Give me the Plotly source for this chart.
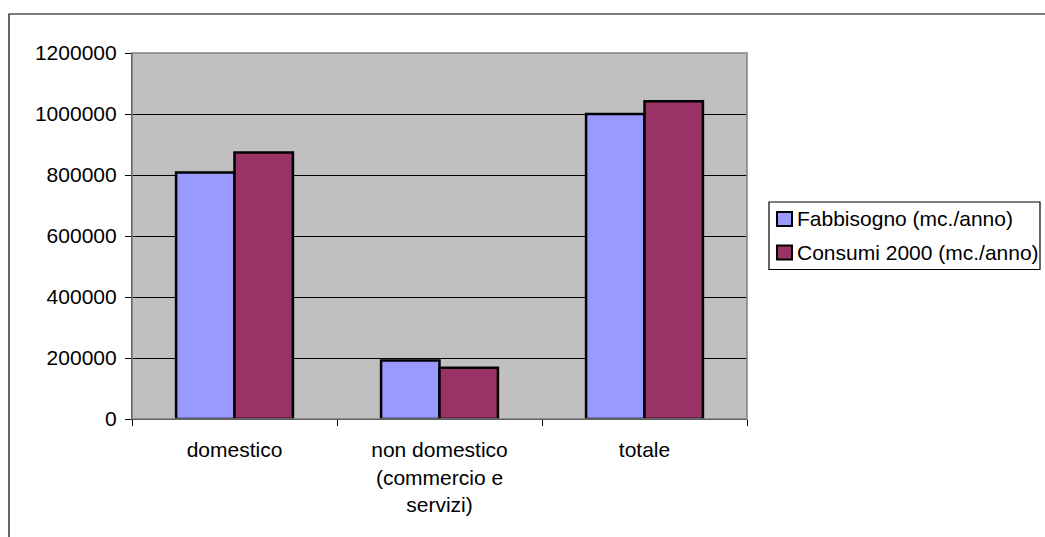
import plotly.graph_objects as go

categories = ["domestico", "non domestico<br>(commercio e<br>servizi)", "totale"]
fabbisogno = [808000, 192000, 1000000]
consumi = [874000, 168000, 1042000]
series_names = ["Fabbisogno (mc./anno)", "Consumi 2000 (mc./anno)"]
series_colors = ["#9999FF", "#993366"]
y_ticks = [0, 200000, 400000, 600000, 800000, 1000000, 1200000]

W, H = 1045, 537
L, R, T, B = 132, 298, 53, 118
pw, ph = W - L - R, H - T - B

def px_x(x):
    return (x - L) / pw

def px_y(y):
    return (H - B - y) / ph

fig = go.Figure()
for name, vals, col in zip(series_names, [fabbisogno, consumi], series_colors):
    fig.add_trace(go.Bar(x=categories, y=vals, name=name,
                         marker=dict(color=col, line=dict(color="black", width=2.5))))

font = dict(family="Liberation Sans, Arial, sans-serif", size=21, color="black")

shapes = [
    # chart area border (extends beyond the view)
    dict(type="rect", xref="paper", yref="paper",
         x0=px_x(9), x1=px_x(1200), y0=px_y(700), y1=px_y(14),
         line=dict(color="black", width=1.2), fillcolor="rgba(0,0,0,0)", layer="below"),
    # plot area border (gray)
    dict(type="rect", xref="paper", yref="paper", x0=0, x1=1, y0=0, y1=1,
         line=dict(color="#808080", width=1.5), fillcolor="rgba(0,0,0,0)", layer="above"),
    # legend box
    dict(type="rect", xref="paper", yref="paper",
         x0=px_x(769), x1=px_x(1040), y0=px_y(269.5), y1=px_y(202),
         line=dict(color="black", width=1.2), fillcolor="white"),
]
annotations = []
row_centers = [219, 252.5]
for name, col, yc in zip(series_names, series_colors, row_centers):
    shapes.append(dict(type="rect", xref="paper", yref="paper",
                       x0=px_x(777), x1=px_x(792), y0=px_y(yc + 7), y1=px_y(yc - 7),
                       line=dict(color="black", width=2), fillcolor=col))
    annotations.append(dict(xref="paper", yref="paper", x=px_x(795), y=px_y(yc),
                            xanchor="left", yanchor="middle", text=name,
                            showarrow=False, font=font))

fig.update_layout(
    width=W, height=H,
    margin=dict(l=L, r=R, t=T, b=B, autoexpand=False),
    paper_bgcolor="white",
    plot_bgcolor="#C0C0C0",
    barmode="group",
    bargap=0.43,
    bargroupgap=0,
    font=font,
    showlegend=False,
    shapes=shapes,
    annotations=annotations,
)

fig.update_xaxes(
    showgrid=False, showline=True, linecolor="black", linewidth=1.2,
    ticks="outside", tickson="boundaries", ticklen=6, tickcolor="black",
    tickfont=font, mirror=False, ticklabelstandoff=12,
)
fig.update_yaxes(
    range=[0, 1200000], tickvals=y_ticks, tickformat="d",
    showgrid=True, gridcolor="black", gridwidth=1,
    showline=True, linecolor="black", linewidth=1.2,
    ticks="outside", ticklen=6, tickcolor="black",
    tickfont=font, zeroline=False, ticklabelstandoff=4,
)

fig.write_html("out.html")
